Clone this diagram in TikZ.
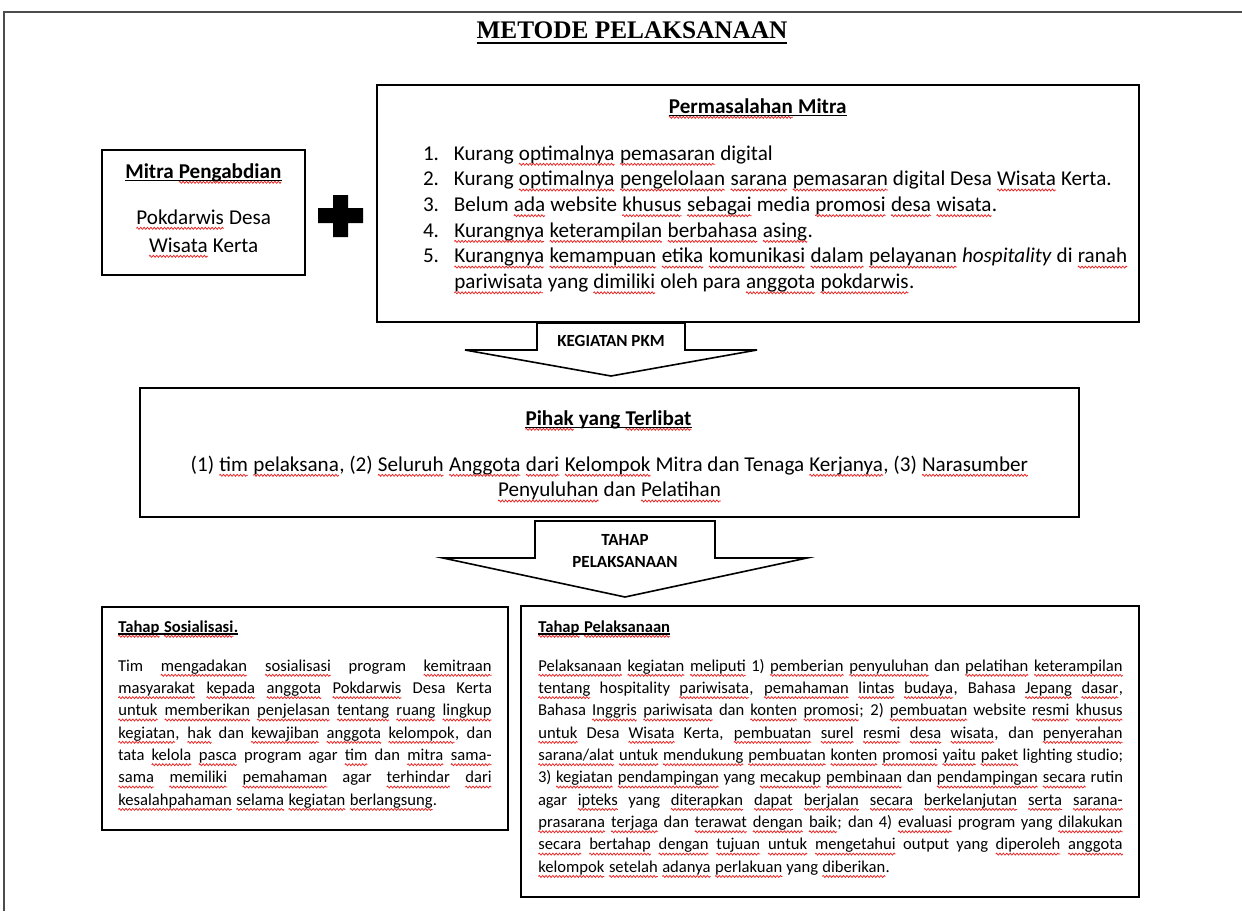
\documentclass[tikz,border=0pt]{standalone}
\usepackage{fontspec}
\setmainfont{Carlito}
\newfontfamily\ttlfont{Liberation Serif}
\usetikzlibrary{decorations.pathmorphing}
\definecolor{sqred}{RGB}{235,35,35}
\newcommand\wv[1]{\tikz[baseline=(wvn.base),x=1pt,y=1pt]{\node[inner sep=0pt,outer sep=0pt,anchor=base,draw=none,fill=none] (wvn) at (0,0) {#1};\draw[sqred, line width=0.75pt, decorate, decoration={zigzag, amplitude=1pt, segment length=3.4pt}] ([yshift=-4.3pt]wvn.base west) -- ([yshift=-4.3pt]wvn.base east);}}
\newcommand\jline[2]{\makebox[#1][s]{#2}}
\tikzset{
  boxline/.style={draw=black, line width=1.8pt, fill=white, inner sep=0pt},
  blockarrow/.style={draw=black, line width=1.6pt, fill=white, line join=miter},
  txt/.style={inner sep=0pt, outer sep=0pt, text=black},
  big/.style={txt, font=\fontsize{21.1}{25.7}\selectfont},
  bigb/.style={txt, font=\fontsize{21.1}{25.7}\selectfont\bfseries},
  small/.style={txt, font=\fontsize{16.6}{22.35}\selectfont},
  smallb/.style={txt, font=\fontsize{16.6}{22.35}\selectfont\bfseries},
  arrowlbl/.style={txt, font=\fontsize{17}{22.5}\selectfont\bfseries, align=center},
  uline/.style={line width=1.3pt, black},
}
\begin{document}
\begin{tikzpicture}[x=1pt,y=-1pt]
\useasboundingbox (0,0) rectangle (1242,911);
\fill[white] (0,0) rectangle (1242,911);
\draw[line width=1.4pt, black!70] (4,911) -- (4,12) -- (1242,12);

% title
\node[txt, font=\ttlfont\bfseries\fontsize{25.3}{30}\selectfont, anchor=base] (title) at (632,38.5) {METODE PELAKSANAAN};
\draw[line width=2.4pt] ([yshift=-4.5pt]title.base west) -- ([yshift=-4.5pt]title.base east);

% Mitra box
\node[boxline, minimum width=203pt, minimum height=125pt] (mitra) at (203.5,212.5) {};
\node[bigb, anchor=base] (mitraT) at (203.5,178) {Mitra \wv{Pengabdian}};
\draw[uline] ([yshift=-2.2pt]mitraT.base west) -- ([yshift=-2.2pt]mitraT.base east);
\node[big, anchor=base] (mitraB1) at (203.5,224) {\wv{Pokdarwis} Desa};
\node[big, anchor=base] (mitraB2) at (203.5,252) {\wv{Wisata} Kerta};

% plus sign
\fill[black] (333,195) -- (348,195) -- (348,208) -- (363,208) -- (363,223) -- (348,223) -- (348,237) -- (333,237) -- (333,223) -- (318,223) -- (318,208) -- (333,208) -- cycle;

% Permasalahan box
\node[boxline, minimum width=762pt, minimum height=237pt] (masalah) at (758,203.5) {};
\node[bigb, anchor=base] (masalahT) at (757.5,113) {\wv{Permasalahan} Mitra};
\draw[uline] ([yshift=-2.2pt]masalahT.base west) -- ([yshift=-2.2pt]masalahT.base east);
\node[big, anchor=base west] (masalahL) at (423,160) {\parbox[t]{710pt}{%
\makebox[31pt][l]{1.}Kurang \wv{optimalnya} \wv{pemasaran} digital\\
\makebox[31pt][l]{2.}Kurang \wv{optimalnya} \wv{pengelolaan} \wv{sarana} \wv{pemasaran} digital Desa \wv{Wisata} Kerta.\\
\makebox[31pt][l]{3.}Belum \wv{ada} website \wv{khusus} \wv{sebagai} media \wv{promosi} \wv{desa} \wv{wisata}.\\
\makebox[31pt][l]{4.}\wv{Kurangnya} \wv{keterampilan} \wv{berbahasa} \wv{asing}.\\
\makebox[31pt][l]{5.}\wv{Kurangnya} \wv{kemampuan} \wv{etika} \wv{komunikasi} \wv{dalam} \wv{pelayanan} \emph{hospitality} di \wv{ranah}\\
\hspace*{31pt}\wv{pariwisata} yang \wv{dimiliki} oleh para \wv{anggota} \wv{pokdarwis}.}};

% arrow 1
\draw[blockarrow] (537,323) -- (685,323) -- (685,350) -- (757,350) -- (611,376) -- (465,350) -- (537,350) -- cycle;
\node[arrowlbl] (kpkm) at (611,341) {KEGIATAN PKM};

% Pihak box
\node[boxline, minimum width=939pt, minimum height=129pt] (pihak) at (609.5,452.5) {};
\node[bigb, anchor=base] (pihakT) at (608.5,425) {\wv{Pihak} yang \wv{Terlibat}};
\draw[uline] ([yshift=-2.2pt]pihakT.base west) -- ([yshift=-2.2pt]pihakT.base east);
\node[big, anchor=base] (pihakB) at (609.5,471) {\parbox[t]{920pt}{\centering
(1) \wv{tim} \wv{pelaksana}, (2) \wv{Seluruh} \wv{Anggota} \wv{dari} \wv{Kelompok} Mitra dan Tenaga \wv{Kerjanya}, (3) \wv{Narasumber}\\
\wv{Penyuluhan} dan \wv{Pelatihan}}};

% arrow 2
\draw[blockarrow] (535,521) -- (715,521) -- (715,558) -- (807,558) -- (625,597) -- (443,558) -- (535,558) -- cycle;
\node[arrowlbl] (tahap) at (625,551) {TAHAP\\PELAKSANAAN};

% Sosialisasi box
\node[boxline, minimum width=406pt, minimum height=223pt] (sos) at (305,718.5) {};
\node[smallb, anchor=base west] (sosT) at (118,632) {\wv{Tahap} \wv{Sosialisasi}.};
\draw[uline, line width=1.1pt] ([yshift=-2pt]sosT.base west) -- ([yshift=-2pt]sosT.base east);
\node[small, anchor=base west] (sosB) at (118,671) {\parbox[t]{374pt}{%
\jline{374pt}{Tim \wv{mengadakan} \wv{sosialisasi} program \wv{kemitraan}}\\
\jline{374pt}{\wv{masyarakat} \wv{kepada} \wv{anggota} \wv{Pokdarwis} Desa Kerta}\\
\jline{374pt}{\wv{untuk} \wv{memberikan} \wv{penjelasan} \wv{tentang} \wv{ruang} \wv{lingkup}}\\
\jline{374pt}{\wv{kegiatan}, \wv{hak} dan \wv{kewajiban} \wv{anggota} \wv{kelompok}, dan}\\
\jline{374pt}{tata \wv{kelola} \wv{pasca} program agar \wv{tim} dan \wv{mitra} \wv{sama-}}\\
\jline{374pt}{\wv{sama} \wv{memiliki} \wv{pemahaman} agar \wv{terhindar} \wv{dari}}\\
\wv{kesalahpahaman} \wv{selama} \wv{kegiatan} \wv{berlangsung}.}};

% Pelaksanaan box
\node[boxline, minimum width=618pt, minimum height=291pt] (pel) at (830,751.5) {};
\node[smallb, anchor=base west] (pelT) at (538,632) {\wv{Tahap} \wv{Pelaksanaan}};
\draw[uline, line width=1.1pt] ([yshift=-2pt]pelT.base west) -- ([yshift=-2pt]pelT.base east);
\node[small, anchor=base west] (pelB) at (538,671) {\parbox[t]{585pt}{%
\jline{585pt}{\wv{Pelaksanaan} \wv{kegiatan} \wv{meliputi} 1) \wv{pemberian} \wv{penyuluhan} dan \wv{pelatihan} \wv{keterampilan}}\\
\jline{585pt}{\wv{tentang} hospitality \wv{pariwisata}, \wv{pemahaman} \wv{lintas} \wv{budaya}, Bahasa \wv{Jepang} \wv{dasar},}\\
\jline{585pt}{Bahasa \wv{Inggris} \wv{pariwisata} dan \wv{konten} \wv{promosi}; 2) \wv{pembuatan} website \wv{resmi} \wv{khusus}}\\
\jline{585pt}{\wv{untuk} Desa \wv{Wisata} Kerta, \wv{pembuatan} \wv{surel} \wv{resmi} \wv{desa} \wv{wisata}, dan \wv{penyerahan}}\\
\jline{585pt}{\wv{sarana/alat} \wv{untuk} \wv{mendukung} \wv{pembuatan} \wv{konten} \wv{promosi} \wv{yaitu} \wv{paket} lighting studio;}\\
\jline{585pt}{3) \wv{kegiatan} \wv{pendampingan} yang \wv{mecakup} \wv{pembinaan} dan \wv{pendampingan} \wv{secara} rutin}\\
\jline{585pt}{agar \wv{ipteks} yang \wv{diterapkan} \wv{dapat} \wv{berjalan} \wv{secara} \wv{berkelanjutan} \wv{serta} \wv{sarana-}}\\
\jline{585pt}{\wv{prasarana} \wv{terjaga} dan \wv{terawat} \wv{dengan} \wv{baik}; dan 4) \wv{evaluasi} program yang \wv{dilakukan}}\\
\jline{585pt}{\wv{secara} \wv{bertahap} \wv{dengan} \wv{tujuan} \wv{untuk} \wv{mengetahui} output yang \wv{diperoleh} \wv{anggota}}\\
\wv{kelompok} \wv{setelah} \wv{adanya} \wv{perlakuan} yang \wv{diberikan}.}};
\end{tikzpicture}
\end{document}
